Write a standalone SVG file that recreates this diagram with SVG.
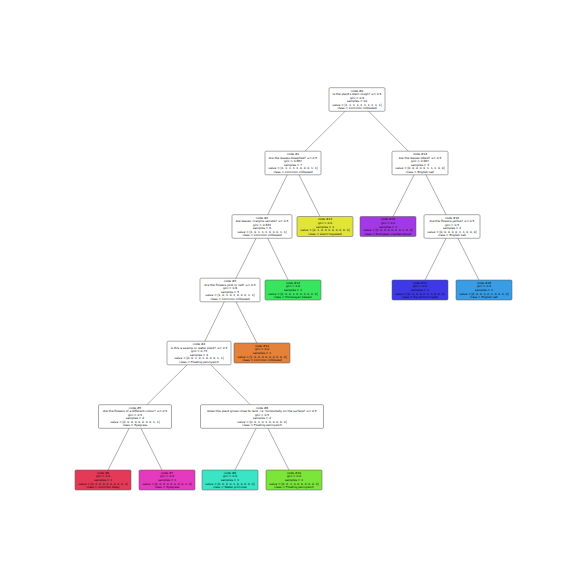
<svg xmlns="http://www.w3.org/2000/svg" width="573" height="573" viewBox="0 0 573 573">
<style>
rect.b{stroke:#555;stroke-width:0.5;fill:#fff}
text{font-family:"DejaVu Sans","Liberation Sans",sans-serif;font-size:2.9px;text-anchor:middle;fill:#000}
#edges line{stroke:#777;stroke-width:0.6}
</style>
<rect width="573" height="573" fill="#fff"/>
<g id="edges">
<line x1="357" y1="99.5" x2="293" y2="163"/>
<line x1="357" y1="99.5" x2="420" y2="163"/>
<line x1="293" y1="163" x2="262" y2="226.5"/>
<line x1="293" y1="163" x2="325" y2="226.5"/>
<line x1="420" y1="163" x2="388" y2="226.5"/>
<line x1="420" y1="163" x2="452" y2="226.5"/>
<line x1="262" y1="226.5" x2="230" y2="290"/>
<line x1="262" y1="226.5" x2="293" y2="290"/>
<line x1="452" y1="226.5" x2="420" y2="290"/>
<line x1="452" y1="226.5" x2="484" y2="290"/>
<line x1="230" y1="290" x2="199" y2="353"/>
<line x1="230" y1="290" x2="262" y2="353"/>
<line x1="199" y1="353" x2="135" y2="416.5"/>
<line x1="199" y1="353" x2="262" y2="416.5"/>
<line x1="135" y1="416.5" x2="103" y2="480"/>
<line x1="135" y1="416.5" x2="167" y2="480"/>
<line x1="262" y1="416.5" x2="230" y2="480"/>
<line x1="262" y1="416.5" x2="294" y2="480"/>
</g>
<g id="node0"><rect class="b" x="329" y="87.7" width="56" height="23.6" rx="1.2"/>
<text y="91.6"><tspan x="357">node #0</tspan><tspan x="357" dy="3.55">Is the plant's stem rough? &lt;= 0.5</tspan><tspan x="357" dy="3.55">gini = 0.9</tspan><tspan x="357" dy="3.55">samples = 10</tspan><tspan x="357" dy="3.55">value = [1, 1, 1, 1, 1, 1, 1, 1, 1, 1]</tspan><tspan x="357" dy="3.55">class = Common milkweed</tspan></text></g>
<g id="node1"><rect class="b" x="265" y="151.2" width="56" height="23.6" rx="1.2"/>
<text y="155.1"><tspan x="293">node #1</tspan><tspan x="293" dy="3.55">Are the leaves dissected? &lt;= 0.5</tspan><tspan x="293" dy="3.55">gini = 0.857</tspan><tspan x="293" dy="3.55">samples = 7</tspan><tspan x="293" dy="3.55">value = [1, 1, 1, 1, 1, 0, 0, 0, 1, 1]</tspan><tspan x="293" dy="3.55">class = Common milkweed</tspan></text></g>
<g id="node14"><rect class="b" x="392" y="151.2" width="56" height="23.6" rx="1.2"/>
<text y="155.1"><tspan x="420">node #14</tspan><tspan x="420" dy="3.55">Are the leaves lobed? &lt;= 0.5</tspan><tspan x="420" dy="3.55">gini = 0.667</tspan><tspan x="420" dy="3.55">samples = 3</tspan><tspan x="420" dy="3.55">value = [0, 0, 0, 0, 0, 1, 1, 1, 0, 0]</tspan><tspan x="420" dy="3.55">class = English oak</tspan></text></g>
<g id="node2"><rect class="b" x="232" y="214.7" width="60" height="23.6" rx="1.2"/>
<text y="218.6"><tspan x="262">node #2</tspan><tspan x="262" dy="3.55">Are leaves' margins serrate? &lt;= 0.5</tspan><tspan x="262" dy="3.55">gini = 0.833</tspan><tspan x="262" dy="3.55">samples = 6</tspan><tspan x="262" dy="3.55">value = [1, 0, 1, 1, 1, 0, 0, 0, 1, 1]</tspan><tspan x="262" dy="3.55">class = Common milkweed</tspan></text></g>
<g id="node13"><rect class="b" x="297" y="216.5" width="56" height="20" rx="1.2" style="fill:#e2e539"/>
<text y="220.4"><tspan x="325">node #13</tspan><tspan x="325" dy="3.55">gini = 0.0</tspan><tspan x="325" dy="3.55">samples = 1</tspan><tspan x="325" dy="3.55">value = [0, 1, 0, 0, 0, 0, 0, 0, 0, 0]</tspan><tspan x="325" dy="3.55">class = Giant hogweed</tspan></text></g>
<g id="node15"><rect class="b" x="360" y="216.5" width="56" height="20" rx="1.2" style="fill:#a339e5"/>
<text y="220.4"><tspan x="388">node #15</tspan><tspan x="388" dy="3.55">gini = 0.0</tspan><tspan x="388" dy="3.55">samples = 1</tspan><tspan x="388" dy="3.55">value = [0, 0, 0, 0, 0, 0, 0, 1, 0, 0]</tspan><tspan x="388" dy="3.55">class = European cranberrybush</tspan></text></g>
<g id="node16"><rect class="b" x="424" y="214.7" width="56" height="23.6" rx="1.2"/>
<text y="218.6"><tspan x="452">node #16</tspan><tspan x="452" dy="3.55">Are the flowers yellow? &lt;= 0.5</tspan><tspan x="452" dy="3.55">gini = 0.5</tspan><tspan x="452" dy="3.55">samples = 2</tspan><tspan x="452" dy="3.55">value = [0, 0, 0, 0, 0, 1, 1, 0, 0, 0]</tspan><tspan x="452" dy="3.55">class = English oak</tspan></text></g>
<g id="node3"><rect class="b" x="200" y="278.2" width="60" height="23.6" rx="1.2"/>
<text y="282.1"><tspan x="230">node #3</tspan><tspan x="230" dy="3.55">Are the flowers pink or red? &lt;= 0.5</tspan><tspan x="230" dy="3.55">gini = 0.8</tspan><tspan x="230" dy="3.55">samples = 5</tspan><tspan x="230" dy="3.55">value = [1, 0, 1, 0, 1, 0, 0, 0, 1, 1]</tspan><tspan x="230" dy="3.55">class = Common milkweed</tspan></text></g>
<g id="node12"><rect class="b" x="265" y="280" width="56" height="20" rx="1.2" style="fill:#39e55e"/>
<text y="283.9"><tspan x="293">node #12</tspan><tspan x="293" dy="3.55">gini = 0.0</tspan><tspan x="293" dy="3.55">samples = 1</tspan><tspan x="293" dy="3.55">value = [0, 0, 0, 1, 0, 0, 0, 0, 0, 0]</tspan><tspan x="293" dy="3.55">class = Himalayan balsam</tspan></text></g>
<g id="node17"><rect class="b" x="392" y="280" width="56" height="20" rx="1.2" style="fill:#3c39e5"/>
<text y="283.9"><tspan x="420">node #17</tspan><tspan x="420" dy="3.55">gini = 0.0</tspan><tspan x="420" dy="3.55">samples = 1</tspan><tspan x="420" dy="3.55">value = [0, 0, 0, 0, 0, 0, 1, 0, 0, 0]</tspan><tspan x="420" dy="3.55">class = Sycamore maple</tspan></text></g>
<g id="node18"><rect class="b" x="456" y="280" width="56" height="20" rx="1.2" style="fill:#399de5"/>
<text y="283.9"><tspan x="484">node #18</tspan><tspan x="484" dy="3.55">gini = 0.0</tspan><tspan x="484" dy="3.55">samples = 1</tspan><tspan x="484" dy="3.55">value = [0, 0, 0, 0, 0, 1, 0, 0, 0, 0]</tspan><tspan x="484" dy="3.55">class = English oak</tspan></text></g>
<g id="node4"><rect class="b" x="167" y="341.2" width="64" height="23.6" rx="1.2"/>
<text y="345.1"><tspan x="199">node #4</tspan><tspan x="199" dy="3.55">Is this a swamp or water plant? &lt;= 0.5</tspan><tspan x="199" dy="3.55">gini = 0.75</tspan><tspan x="199" dy="3.55">samples = 4</tspan><tspan x="199" dy="3.55">value = [0, 0, 1, 0, 1, 0, 0, 0, 1, 1]</tspan><tspan x="199" dy="3.55">class = Floating pennywort</tspan></text></g>
<g id="node11"><rect class="b" x="234" y="343" width="56" height="20" rx="1.2" style="fill:#e58139"/>
<text y="346.9"><tspan x="262">node #11</tspan><tspan x="262" dy="3.55">gini = 0.0</tspan><tspan x="262" dy="3.55">samples = 1</tspan><tspan x="262" dy="3.55">value = [1, 0, 0, 0, 0, 0, 0, 0, 0, 0]</tspan><tspan x="262" dy="3.55">class = Common milkweed</tspan></text></g>
<g id="node5"><rect class="b" x="98.5" y="404.7" width="73" height="23.6" rx="1.2"/>
<text y="408.6"><tspan x="135">node #5</tspan><tspan x="135" dy="3.55">Are the flowers of a different colour? &lt;= 0.5</tspan><tspan x="135" dy="3.55">gini = 0.5</tspan><tspan x="135" dy="3.55">samples = 2</tspan><tspan x="135" dy="3.55">value = [0, 0, 0, 0, 0, 0, 0, 0, 1, 1]</tspan><tspan x="135" dy="3.55">class = Ryegrass</tspan></text></g>
<g id="node8"><rect class="b" x="200.5" y="404.7" width="123" height="23.6" rx="1.2"/>
<text y="408.6"><tspan x="262">node #8</tspan><tspan x="262" dy="3.55">Does this plant grows close to land, i.e. horizontally on the surface? &lt;= 0.5</tspan><tspan x="262" dy="3.55">gini = 0.5</tspan><tspan x="262" dy="3.55">samples = 2</tspan><tspan x="262" dy="3.55">value = [0, 0, 1, 0, 1, 0, 0, 0, 0, 0]</tspan><tspan x="262" dy="3.55">class = Floating pennywort</tspan></text></g>
<g id="node6"><rect class="b" x="75" y="470" width="56" height="20" rx="1.2" style="fill:#e53958"/>
<text y="473.9"><tspan x="103">node #6</tspan><tspan x="103" dy="3.55">gini = 0.0</tspan><tspan x="103" dy="3.55">samples = 1</tspan><tspan x="103" dy="3.55">value = [0, 0, 0, 0, 0, 0, 0, 0, 0, 1]</tspan><tspan x="103" dy="3.55">class = Common daisy</tspan></text></g>
<g id="node7"><rect class="b" x="139" y="470" width="56" height="20" rx="1.2" style="fill:#e539c0"/>
<text y="473.9"><tspan x="167">node #7</tspan><tspan x="167" dy="3.55">gini = 0.0</tspan><tspan x="167" dy="3.55">samples = 1</tspan><tspan x="167" dy="3.55">value = [0, 0, 0, 0, 0, 0, 0, 0, 1, 0]</tspan><tspan x="167" dy="3.55">class = Ryegrass</tspan></text></g>
<g id="node9"><rect class="b" x="202" y="470" width="56" height="20" rx="1.2" style="fill:#39e5c5"/>
<text y="473.9"><tspan x="230">node #9</tspan><tspan x="230" dy="3.55">gini = 0.0</tspan><tspan x="230" dy="3.55">samples = 1</tspan><tspan x="230" dy="3.55">value = [0, 0, 0, 0, 1, 0, 0, 0, 0, 0]</tspan><tspan x="230" dy="3.55">class = Water primrose</tspan></text></g>
<g id="node10"><rect class="b" x="266" y="470" width="56" height="20" rx="1.2" style="fill:#7be539"/>
<text y="473.9"><tspan x="294">node #10</tspan><tspan x="294" dy="3.55">gini = 0.0</tspan><tspan x="294" dy="3.55">samples = 1</tspan><tspan x="294" dy="3.55">value = [0, 0, 1, 0, 0, 0, 0, 0, 0, 0]</tspan><tspan x="294" dy="3.55">class = Floating pennywort</tspan></text></g>
</svg>
